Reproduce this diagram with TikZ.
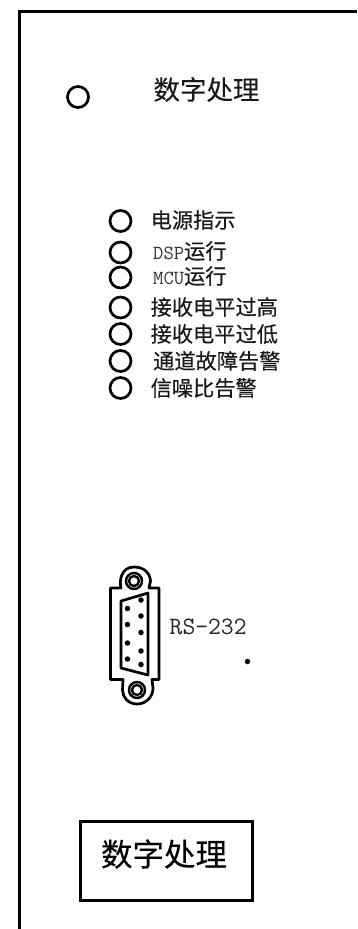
\documentclass[tikz,border=0pt]{standalone}
\usepackage{fontspec}
\setmainfont{Noto Sans CJK SC}
\newfontfamily\cjk[FakeBold=0.25]{Noto Sans CJK SC}
\setmonofont{Latin Modern Mono}
\tikzset{
  x=1pt,y=-1pt,
  lamp/.style={circle,draw=black,line width=2.7pt,minimum size=21pt,inner sep=0pt},
  lab/.style={anchor=west,inner sep=0pt,font=\fontsize{21.2pt}{23pt}\cjk,text=black!90},
  cline/.style={draw=black,line width=2.7pt,line join=round},
  ring/.style={draw=black,line width=2.4pt},
  pin/.style={circle,fill=black,inner sep=0pt,minimum size=5.5pt},
}
\newcommand{\ms}[1]{{\fontsize{20pt}{22pt}\ttfamily\color{black!80}#1}}
\begin{document}
\begin{tikzpicture}
\useasboundingbox (0,0) rectangle (357,929);
\coordinate (pa) at (19.5,929);
\coordinate (pb) at (19.5,11.5);
\coordinate (pc) at (357,11.5);
\draw[black,line width=3pt,line join=miter] (pa) -- (pb) -- (pc);

\node[lamp] (top) at (78,97) {};
\node[anchor=center,inner sep=0pt,font=\fontsize{26.5pt}{28pt}\cjk,text=black!90] (title) at (206.5,89.5) {数字处理};

\node[lamp] (l1) at (120.5,221) {};
\node[lamp] (l2) at (120.5,252.5) {};
\node[lamp] (l3) at (120.5,277.5) {};
\node[lamp] (l4) at (120.5,307.5) {};
\node[lamp] (l5) at (120.5,334) {};
\node[lamp] (l6) at (120.5,361) {};
\node[lamp] (l7) at (120.5,388) {};

\node[lab] (t1) at (150.5,220) {电源指示};
\node[lab] (t2) at (153,251) {\ms{DSP}运行};
\node[lab] (t3) at (153,276) {\ms{MCU}运行};
\node[lab] (t4) at (150.5,307) {接收电平过高};
\node[lab] (t5) at (150.5,334) {接收电平过低};
\node[lab] (t6) at (153,361) {通道故障告警};
\node[lab] (t7) at (150.5,388) {信噪比告警};

% RS-232 connector
\draw[cline,fill=white] (110.5,588) -- (121,588)
  .. controls (119,581) and (121,567) .. (134,567)
  .. controls (144,567) and (150,573) .. (150.5,581)
  -- (149,588) -- (159,588) -- (159,679.5) -- (152,679.5)
  -- (153,688)
  .. controls (153,697) and (146,704) .. (137,704)
  .. controls (128,704) and (122.5,697) .. (122.5,690)
  -- (123,679.5) -- (110.5,679.5) -- cycle;
\draw[cline] (121,601) -- (148,593) -- (148,675) -- (121,668) -- cycle;
\draw[ring] (134,581) circle[radius=8];
\draw[ring] (134,581) circle[radius=5];
\draw[ring] (137,690) circle[radius=8];
\draw[ring] (137,690) circle[radius=5];
\foreach \y in {600,616,632.5,651,664.5} \node[pin] at (141,\y) {};
\foreach \y in {608.5,624.5,643,659} \node[pin] at (127.5,\y) {};

\node[anchor=west,inner sep=0pt,font=\fontsize{24.9pt}{26pt}\ttfamily,text=black!85] (rs) at (169.5,626.5) {RS-232};
\node[pin] (dot) at (247.5,661.5) {};

\node[draw=black,line width=3pt,minimum width=172pt,minimum height=79.5pt,inner sep=0pt,anchor=north west] (box) at (78.5,819.5) {};
\node[inner sep=0pt,font=\fontsize{31.5pt}{33pt}\cjk,text=black] (boxt) at (164,854) {数字处理};
\end{tikzpicture}
\end{document}
